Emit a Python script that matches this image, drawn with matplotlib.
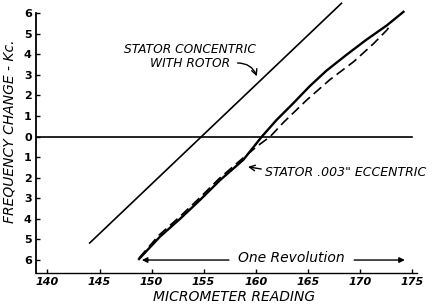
import matplotlib
matplotlib.use("Agg")
import matplotlib.pyplot as plt

# Data
concentric_x = [144.0, 168.3]
concentric_y = [-5.2, 6.5]

ecc_solid_x = [148.8, 150.8, 152.8, 154.7, 156.6, 158.8, 160.6, 162.0, 163.6,
               165.2, 166.8, 168.7, 170.6, 172.6, 174.2]
ecc_solid_y = [-5.95, -4.87, -3.97, -3.06, -2.11, -1.14, 0.0, 0.8, 1.61,
               2.45, 3.2, 3.96, 4.69, 5.4, 6.06]

ecc_dash_x = [148.8, 150.7, 152.7, 154.6, 156.5, 158.7, 160.2, 161.4, 162.7,
              164.9, 167.1, 169.4, 171.3, 172.6, 173.0]
ecc_dash_y = [-5.9, -4.8, -3.9, -2.99, -2.04, -1.08, -0.45, 0.0, 0.7,
              1.77, 2.75, 3.63, 4.5, 5.17, 5.45]

x_ticks = [140, 145, 150, 155, 160, 165, 170, 175]
y_ticks = [6, 5, 4, 3, 2, 1, 0, -1, -2, -3, -4, -5, -6]
y_tick_labels = [str(abs(v)) for v in y_ticks]

plt.rcParams['font.family'] = ['DejaVu Sans']

fig = plt.figure(figsize=(4.37, 3.04), dpi=100)
ax = fig.add_axes([36/437, 31/304, (417-36)/437, 272.3/304])
ax.set_xlim(138.9, 175.5)
ax.set_ylim(-6.63, 6.6)

ax.spines['top'].set_visible(False)
ax.spines['right'].set_visible(False)
ax.spines['left'].set_bounds(-6.63, 6)
ax.spines['left'].set_linewidth(1.3)
ax.spines['bottom'].set_linewidth(1.0)

ax.axhline(0, xmin=0, xmax=(175.0-138.9)/(175.5-138.9), color='black', lw=1.2)

ax.plot(concentric_x, concentric_y, color='black', lw=1.2, solid_capstyle='butt')
ax.plot(ecc_solid_x, ecc_solid_y, color='black', lw=1.7, solid_joinstyle='round')
ax.plot(ecc_dash_x, ecc_dash_y, color='black', lw=1.2, dashes=(6, 3))

ax.set_xticks(x_ticks)
ax.set_xticklabels([str(v) for v in x_ticks], fontsize=8, fontweight='bold', fontstyle='italic')
ax.set_yticks(y_ticks)
ax.set_yticklabels(y_tick_labels, fontsize=8, fontweight='bold')
ax.tick_params(direction='in', length=3, width=1, pad=3)

fig.text(234/437, 1-297/304, 'MICROMETER READING', fontsize=10, fontstyle='italic',
         ha='center', va='center')
fig.text(10/437, 1-131/304, 'FREQUENCY CHANGE - Kc.', fontsize=10, fontstyle='italic',
         ha='center', va='center', rotation=90)

ax.text(153.7, 3.89, 'STATOR CONCENTRIC\nWITH ROTOR', fontsize=8.8, fontstyle='italic',
        ha='center', va='center', linespacing=1.05)
ax.annotate('', xy=(160.2, 2.8), xytext=(158.0, 3.57),
            arrowprops=dict(arrowstyle='->', color='black', lw=1.0,
                            connectionstyle='arc3,rad=-0.4'))

ax.text(160.9, -1.77, 'STATOR .003" ECCENTRIC', fontsize=9, fontstyle='italic',
        ha='left', va='center')
ax.annotate('', xy=(159.0, -1.45), xytext=(160.8, -1.6),
            arrowprops=dict(arrowstyle='->', color='black', lw=1.0))

ax.text(163.4, -5.9, 'One Revolution', fontsize=10, fontstyle='italic',
        ha='center', va='center')
ax.annotate('', xy=(148.8, -6.0), xytext=(157.7, -6.0),
            arrowprops=dict(arrowstyle='-|>', color='black', lw=1.0, mutation_scale=8))
ax.annotate('', xy=(174.6, -6.0), xytext=(169.2, -6.0),
            arrowprops=dict(arrowstyle='-|>', color='black', lw=1.0, mutation_scale=8))

fig.savefig('out.png', dpi=100)
